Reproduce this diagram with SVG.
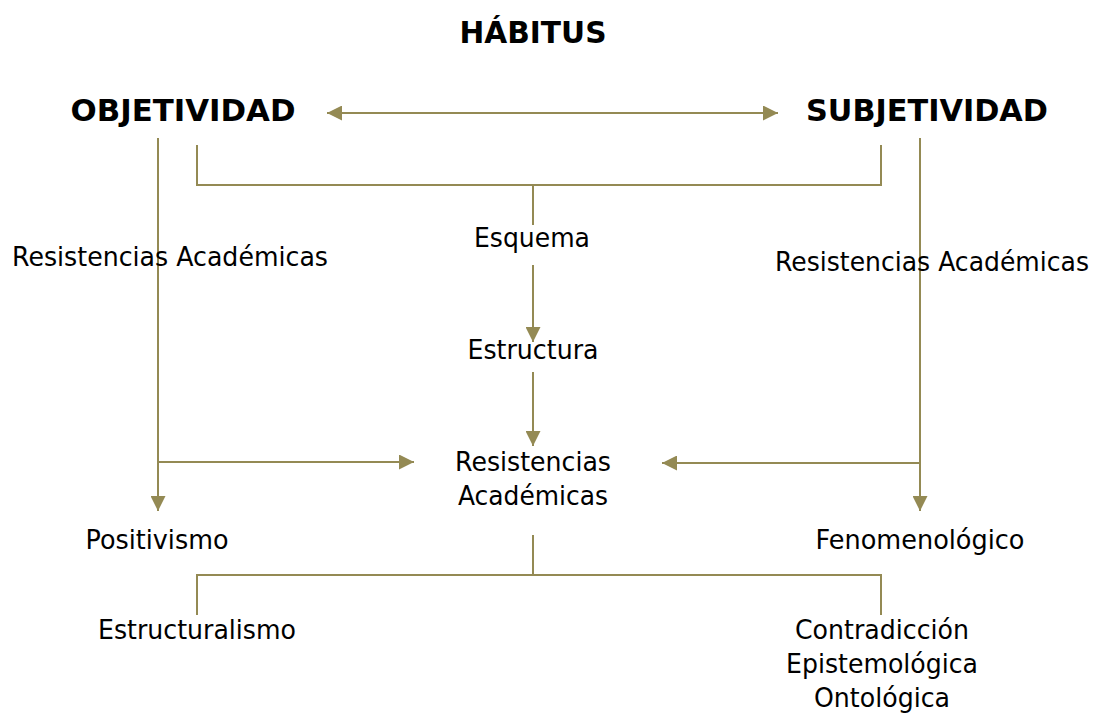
<svg xmlns="http://www.w3.org/2000/svg" width="1096" height="715" viewBox="0 0 1096 715">
<style>
text{font-family:"DejaVu Sans","Liberation Sans",sans-serif;fill:#000;text-anchor:middle}
.b{font-weight:bold;font-size:31px}
.r{font-size:27px}
.ln{fill:none;stroke:#948A54;stroke-width:2}
</style>
<defs>
<marker id="ah" viewBox="0 0 15 15" refX="15" refY="7.5" markerWidth="15" markerHeight="15" markerUnits="userSpaceOnUse" orient="auto-start-reverse">
<path d="M0,0 L15,7.5 L0,15 Z" fill="#948A54"/>
</marker>
</defs>
<rect width="1096" height="715" fill="#fff"/>
<g id="connectors">
<line class="ln" x1="327" y1="113" x2="778" y2="113" marker-start="url(#ah)" marker-end="url(#ah)"/>
<polyline class="ln" points="197,145 197,185 881,185 881,145"/>
<line class="ln" x1="533" y1="185" x2="533" y2="225"/>
<line class="ln" x1="533" y1="265" x2="533" y2="342" marker-end="url(#ah)"/>
<line class="ln" x1="533" y1="372" x2="533" y2="446" marker-end="url(#ah)"/>
<line class="ln" x1="158" y1="138" x2="158" y2="511" marker-end="url(#ah)"/>
<line class="ln" x1="158" y1="462" x2="414" y2="462" marker-end="url(#ah)"/>
<line class="ln" x1="920" y1="138" x2="920" y2="511" marker-end="url(#ah)"/>
<line class="ln" x1="920" y1="463" x2="662" y2="463" marker-end="url(#ah)"/>
<line class="ln" x1="533" y1="535" x2="533" y2="575"/>
<polyline class="ln" points="197,615 197,575 881,575 881,615"/>
</g>
<g id="habitus"><text class="b" x="533" y="43" textLength="147" lengthAdjust="spacingAndGlyphs">HÁBITUS</text></g>
<g id="objetividad"><text class="b" x="183" y="121" textLength="225" lengthAdjust="spacingAndGlyphs">OBJETIVIDAD</text></g>
<g id="subjetividad"><text class="b" x="927" y="121" textLength="242" lengthAdjust="spacingAndGlyphs">SUBJETIVIDAD</text></g>
<g id="res-left"><text class="r" x="170" y="266" textLength="316" lengthAdjust="spacingAndGlyphs">Resistencias Académicas</text></g>
<g id="res-right"><text class="r" x="932" y="271" textLength="314" lengthAdjust="spacingAndGlyphs">Resistencias Académicas</text></g>
<g id="esquema"><text class="r" x="532" y="247" textLength="116" lengthAdjust="spacingAndGlyphs">Esquema</text></g>
<g id="estructura"><text class="r" x="533" y="359" textLength="131" lengthAdjust="spacingAndGlyphs">Estructura</text></g>
<g id="res-center">
<text class="r" x="533" y="471" textLength="156" lengthAdjust="spacingAndGlyphs">Resistencias</text>
<text class="r" x="533" y="505" textLength="150" lengthAdjust="spacingAndGlyphs">Académicas</text>
</g>
<g id="positivismo"><text class="r" x="157" y="549" textLength="143" lengthAdjust="spacingAndGlyphs">Positivismo</text></g>
<g id="fenomenologico"><text class="r" x="920" y="549" textLength="209" lengthAdjust="spacingAndGlyphs">Fenomenológico</text></g>
<g id="estructuralismo"><text class="r" x="197" y="639" textLength="198" lengthAdjust="spacingAndGlyphs">Estructuralismo</text></g>
<g id="contradiccion">
<text class="r" x="882" y="639" textLength="174" lengthAdjust="spacingAndGlyphs">Contradicción</text>
<text class="r" x="882" y="673" textLength="192" lengthAdjust="spacingAndGlyphs">Epistemológica</text>
<text class="r" x="882" y="707" textLength="136" lengthAdjust="spacingAndGlyphs">Ontológica</text>
</g>
</svg>
